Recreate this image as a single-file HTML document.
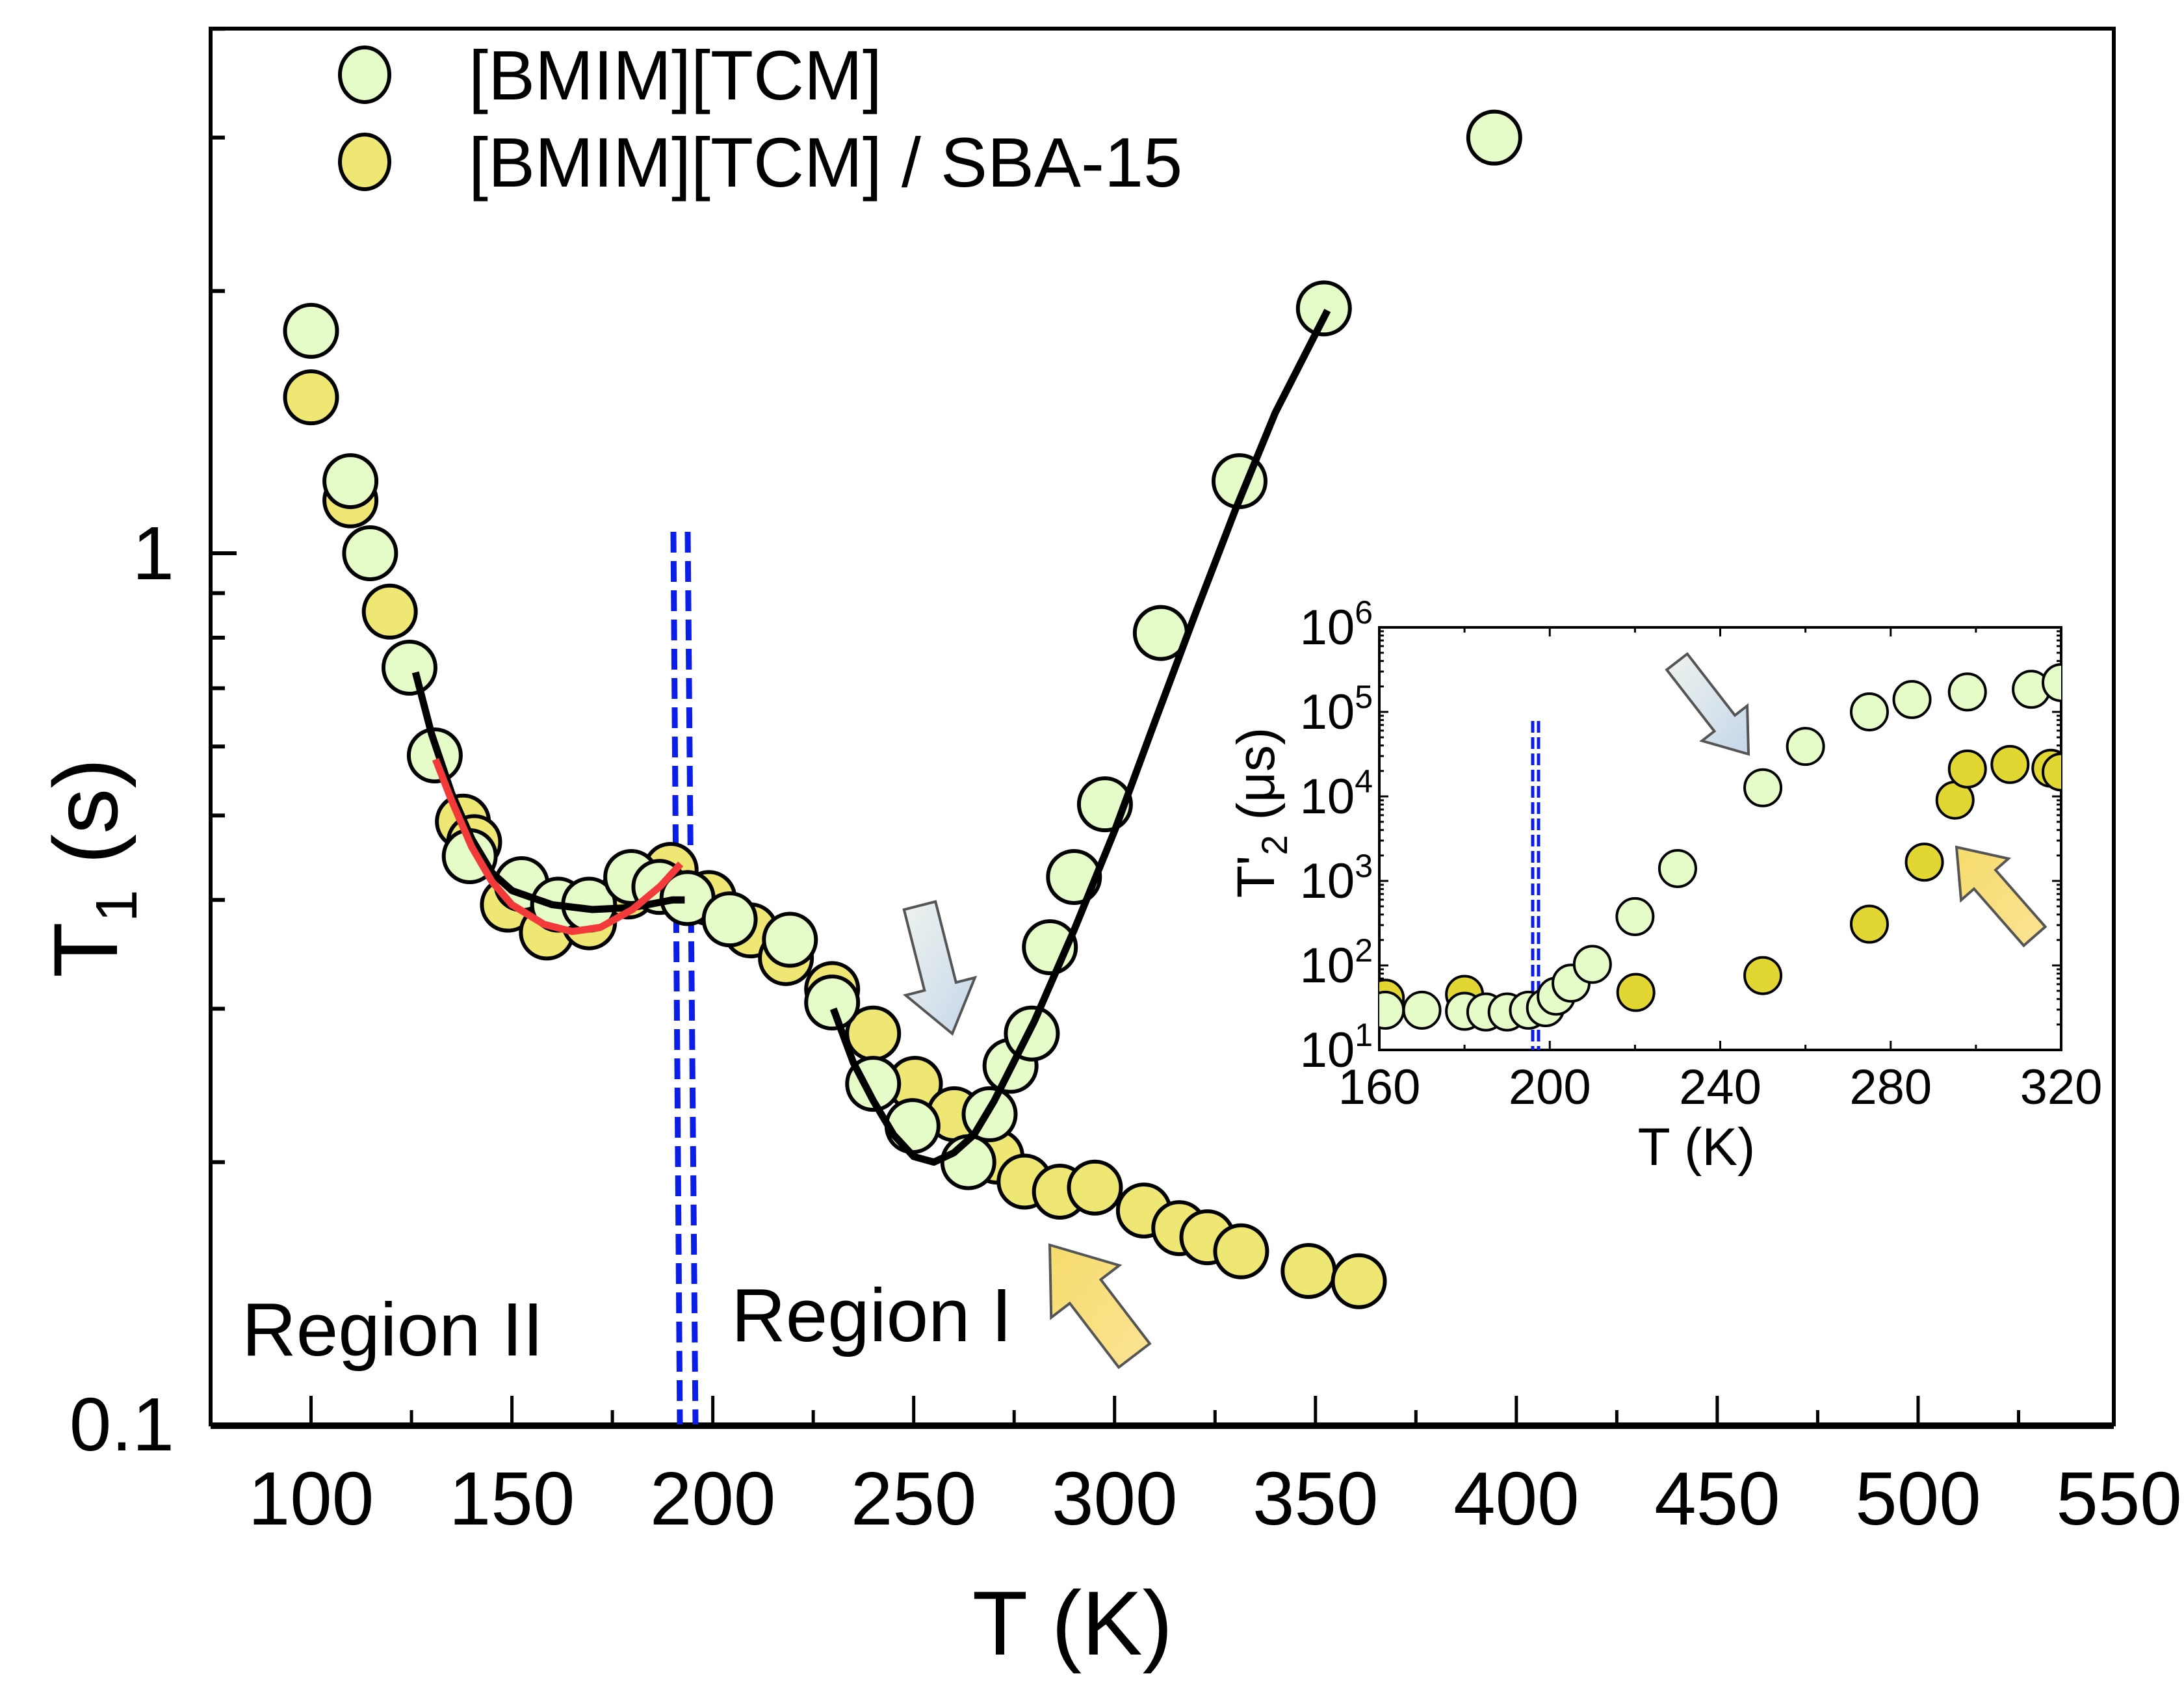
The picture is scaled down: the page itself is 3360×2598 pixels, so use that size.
<!DOCTYPE html>
<html><head><meta charset="utf-8"><style>
html,body{margin:0;padding:0;background:#fff}
svg{display:block}
text{font-family:"Liberation Sans",sans-serif;fill:#000}
</style></head><body>
<svg id="chart" width="3360" height="2598" viewBox="0 0 3360 2598" xmlns="http://www.w3.org/2000/svg">
<defs>
<clipPath id="mainclip"><rect x="324" y="44" width="2936" height="2147"/></clipPath>
<clipPath id="insetclip"><rect x="2122" y="965" width="1049" height="650"/></clipPath>
<linearGradient id="grayArrow" x1="0" y1="0" x2="1" y2="1"><stop offset="0" stop-color="#eef3ee"/><stop offset="1" stop-color="#c6d7ea"/></linearGradient>
<linearGradient id="yellowArrow" x1="0" y1="0" x2="1" y2="1"><stop offset="0" stop-color="#f6dc6c"/><stop offset="1" stop-color="#fbe394"/></linearGradient>
</defs>
<g id="main"></g>
<g id="inset"></g>
</svg>
<script>
// ---- main chart data ----
const pureT = [100,109.8,114.7,124.5,130.8,139.5,152.4,161.5,169.2,179.7,186.7,193.7,204.2,219.2,229.7,239.9,249.7,263.6,268.9,274.1,279.4,283.9,289.9,297.6,311.5,331.1,352.1,394.5];
const pureT1 = [1.80,1.21,1.0,0.739,0.586,0.449,0.417,0.395,0.395,0.425,0.414,0.402,0.380,0.360,0.305,0.246,0.220,0.200,0.227,0.258,0.281,0.353,0.425,0.515,0.81,1.21,1.91,3.0];
const sbaT = [100,109.8,119.6,137.8,140.6,149,158.7,169.2,179,189.5,199,209.4,218.2,229.7,239.9,250.3,260.1,270.6,277.6,286.4,295.1,307.3,316.1,323.1,331.5,348.3,360.8];
const sbaT1 = [1.51,1.15,0.857,0.492,0.466,0.395,0.367,0.377,0.409,0.433,0.402,0.369,0.343,0.316,0.281,0.246,0.227,0.203,0.190,0.185,0.187,0.176,0.168,0.164,0.158,0.150,0.146];
const fit1T = [126,130,135,140,145,150,160,170,180,190,193];
const fit1V = [0.73,0.62,0.53,0.47,0.43,0.41,0.395,0.39,0.392,0.40,0.40];
const fitRedT = [131,135,140,145,150,158,165,172,180,187,192];
const fitRedV = [0.58,0.52,0.46,0.42,0.395,0.375,0.368,0.372,0.39,0.415,0.44];
const fit2T = [230,235,240,245,250,255,260,265,270,280,290,300,310,320,330,340,353];
const fit2V = [0.30,0.26,0.235,0.215,0.203,0.2,0.205,0.215,0.235,0.29,0.37,0.48,0.64,0.85,1.12,1.45,1.9];
const xTicks = [100,150,200,250,300,350,400,450,500,550];
const yTickLabels = ["0.1","1"];
// ---- inset data ----
const inPureT = [161.4,170,180,185,190,195,199,201.5,205,210,220,230,250,260,275,285,298,313,320];
const inPureV = [29.5,29.5,28.7,28.1,28.1,29.5,31.6,43.3,61.7,103,378,1400,12650,39000,100000,140000,172000,185000,222000];
const inSbaT = [161.4,180,220.2,250,275,287.9,295.1,298,308,317.6,320];
const inSbaV = [41,45.5,47.9,75.9,308,1667,9036,21090,23880,21530,19450];
const inXTicks = [160,200,240,280,320];
const inYExp = [1,2,3,4,5,6];

const NS="http://www.w3.org/2000/svg";
function mk(tag,attrs,parent){const e=document.createElementNS(NS,tag);for(const k in attrs)e.setAttribute(k,attrs[k]);parent.appendChild(e);return e;}
const main=document.getElementById('main');
const inset=document.getElementById('inset');

const X0=324,X1=3260,Y1s=851,DEC=1340;
const xs=t=>X0+(t-75)*(X1-X0)/475;
const ys=v=>Y1s-Math.log10(v)*DEC;

function path(ts,vs,xf,yf){return ts.map((t,i)=>(i?'L':'M')+xf(t).toFixed(1)+','+yf(vs[i]).toFixed(1)).join(' ');}

let fr=mk('rect',{x:X0,y:44,width:X1-X0-8,height:2191-44,fill:'none',stroke:'#000','stroke-width':6},main);


let bl=mk('line',{x1:X0,y1:2193,x2:X1-8,y2:2193,stroke:'#000','stroke-width':10},main);



for(let t=100;t<=525;t+=25){
  const major=(t%50===0);
  const tk=mk('line',{x1:xs(t),x2:xs(t),y1:2191,y2:2191-(major?44:22),stroke:'#000','stroke-width':5},main);
  
  
}
xTicks.forEach(t=>{
  const tx=mk('text',{x:xs(t),y:2345,'font-size':116,'text-anchor':'middle'},main);
  tx.textContent=String(t);
  
  
});
for(let d=-1;d<=0;d++){
  for(let m=1;m<=9;m++){
    const v=m*Math.pow(10,d);
    if(v>4.01||v<0.1)continue;
    const major=(m===1);
    const tk=mk('line',{x1:X0,x2:X0+(major?40:22),y1:ys(v),y2:ys(v),stroke:'#000','stroke-width':6},main);
    
    
  }
}
yTickLabels.forEach((lab,i)=>{
  const v=parseFloat(lab);
  const tx=mk('text',{x:268,y:ys(v)+40,'font-size':116,'text-anchor':'end'},main);
  tx.textContent=lab;
  
  
});
let xt=mk('text',{x:1650,y:2545,'font-size':140,'text-anchor':'middle'},main);
xt.textContent='T (K)';


let yt=mk('text',{x:0,y:0,'font-size':140,'text-anchor':'middle',transform:'translate(180,1335) rotate(-90)'},main);
yt.innerHTML='T<tspan font-size="90" dy="30">1</tspan><tspan dy="-30"> (s)</tspan>';



[[1036,1046],[1058,1070]].forEach(p=>{
  const l=mk('line',{x1:p[0],y1:818,x2:p[1],y2:2191,stroke:'#0a1ee8','stroke-width':9,'stroke-dasharray':'32 13'},main);
  
  
});

let r2=mk('text',{x:372,y:2085,'font-size':116},main);
r2.textContent='Region II';


let r1=mk('text',{x:1125,y:2063,'font-size':116},main);
r1.textContent='Region I';



const gm=mk('g',{'clip-path':'url(#mainclip)'},main);
function dots(ts,vs,xf,yf,r,fill,sw,parent,name){
  ts.forEach((t,i)=>{
    const c=mk('circle',{cx:xf(t),cy:yf(vs[i]),r:r,fill:fill,stroke:'#000','stroke-width':sw},parent);
    
    
  });
}
dots(sbaT,sbaT1,xs,ys,40,'#efe773',6,gm,'sba15-point');
dots(pureT,pureT1,xs,ys,40,'#e6fcc8',6,gm,'bmim-tcm-point');
let f1=mk('path',{d:path(fit1T,fit1V,xs,ys),fill:'none',stroke:'#000','stroke-width':11,'stroke-linejoin':'round'},gm);


let fr2=mk('path',{d:path(fitRedT,fitRedV,xs,ys),fill:'none',stroke:'#f23a3a','stroke-width':11,'stroke-linejoin':'round'},gm);


let f2=mk('path',{d:path(fit2T,fit2V,xs,ys),fill:'none',stroke:'#000','stroke-width':11,'stroke-linejoin':'round'},gm);



function arrow(x1,y1,x2,y2,w,fill,name,parent){
  const dx=x2-x1,dy=y2-y1,L=Math.hypot(dx,dy),ux=dx/L,uy=dy/L,nx=-uy,ny=ux;
  const hl=w*1.5, hw=w*1.1;
  const bx=x2-ux*hl,by=y2-uy*hl;
  const pts=[[x1+nx*w/2,y1+ny*w/2],[bx+nx*w/2,by+ny*w/2],[bx+nx*hw,by+ny*hw],[x2,y2],[bx-nx*hw,by-ny*hw],[bx-nx*w/2,by-ny*w/2],[x1-nx*w/2,y1-ny*w/2]];
  const p=mk('polygon',{points:pts.map(q=>q.join(',')).join(' '),fill:fill,stroke:'#555','stroke-width':4},parent);
  
  
}
arrow(1415,1393,1465,1590,50,'url(#grayArrow)','gray-arrow-main',main);
arrow(1745,2085,1615,1915,60,'url(#yellowArrow)','yellow-arrow-main',main);

let lg=mk('g',{},main);


[['[BMIM][TCM]','#e6fcc8',115,153],['[BMIM][TCM] / SBA-15','#efe773',249,287]].forEach(e=>{
  const c=mk('ellipse',{cx:561,cy:e[2],rx:38,ry:42,fill:e[1],stroke:'#000','stroke-width':6},lg);
  
  
  const t=mk('text',{x:721,y:e[3],'font-size':108},lg);
  t.textContent=e[0];
  
  
});

// ---- inset ----
const IX0=2122,IX1=3171,IY0=965,IY1=1615;
const ixs=t=>IX0+(t-160)*(IX1-IX0)/160;
const iys=v=>IY1-(Math.log10(v)-1)*(IY1-IY0)/5;
let ifr=mk('rect',{x:IX0,y:IY0,width:IX1-IX0,height:IY1-IY0,fill:'#fff',stroke:'#000','stroke-width':4},inset);


for(let t=160;t<=320;t+=20){
  const major=(t%40===0);
  [[IY1,-1],[IY0,1]].forEach(s=>{
    const tk=mk('line',{x1:ixs(t),x2:ixs(t),y1:s[0],y2:s[0]+s[1]*(major?14:8),stroke:'#000','stroke-width':3},inset);
    
    
  });
}
for(let d=1;d<6;d++){for(let m=1;m<=9;m++){
  const v=m*Math.pow(10,d);
  [[IX0,1],[IX1,-1]].forEach(s=>{
    const tk=mk('line',{x1:s[0],x2:s[0]+s[1]*(m===1?14:7),y1:iys(v),y2:iys(v),stroke:'#000','stroke-width':3},inset);
    
    
  });
}}
inXTicks.forEach(t=>{
  const tx=mk('text',{x:ixs(t),y:1698,'font-size':76,'text-anchor':'middle'},inset);
  tx.textContent=String(t);
  
  
});
inYExp.forEach(e=>{
  const tx=mk('text',{x:2112,y:iys(Math.pow(10,e))+26,'font-size':76,'text-anchor':'end'},inset);
  tx.innerHTML='10<tspan font-size="50" dy="-32">'+e+'</tspan>';
  
  
});
let ixt=mk('text',{x:2610,y:1792,'font-size':82,'text-anchor':'middle'},inset);
ixt.textContent='T (K)';


let iyt=mk('text',{x:0,y:0,'font-size':82,'text-anchor':'middle',transform:'translate(1960,1250) rotate(-90)'},inset);
iyt.innerHTML='T\'<tspan font-size="56" dy="20">2</tspan><tspan dy="-20"> (\u03bcs)</tspan>';


const gi=mk('g',{'clip-path':'url(#insetclip)'},inset);
[[2358,2367],[2367,2375]].forEach(p=>{
  const l=mk('line',{x1:p[0],y1:1109,x2:p[0],y2:IY1,stroke:'#0a1ee8','stroke-width':5,'stroke-dasharray':'18 7'},gi);
  
  
});
dots(inSbaT,inSbaV,ixs,iys,28,'#e2d632',4,gi,'inset-sba15-point');
dots(inPureT,inPureV,ixs,iys,28,'#e6fcc8',4,gi,'inset-bmim-tcm-point');
arrow(2580,1018,2690,1160,40,'url(#grayArrow)','gray-arrow-inset',inset);
arrow(3130,1440,3010,1303,44,'url(#yellowArrow)','yellow-arrow-inset',inset);
</script>
</body></html>
